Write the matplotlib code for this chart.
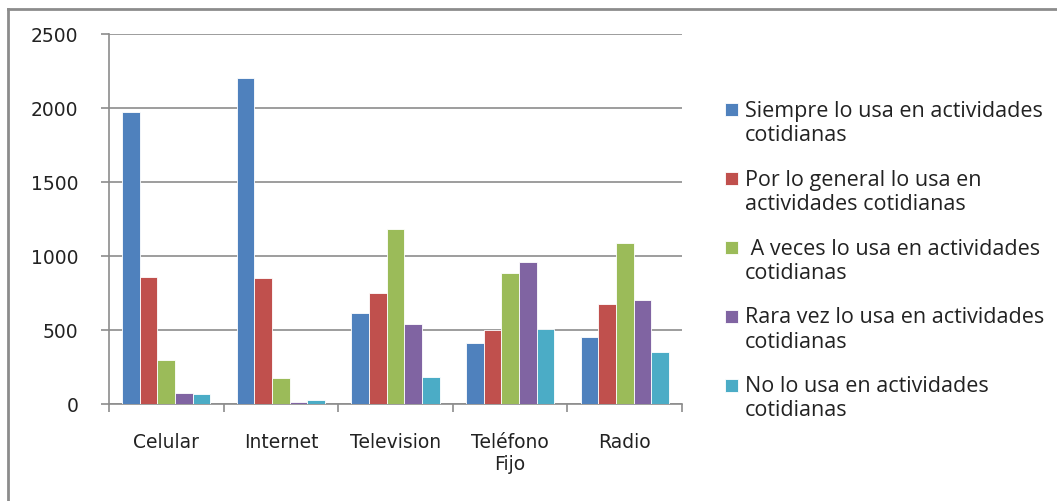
import matplotlib.pyplot as plt
import matplotlib.patches as mpatches
from matplotlib.container import BarContainer
from matplotlib.legend_handler import HandlerPatch
from matplotlib.lines import Line2D
import numpy as np

categories = ['Celular', 'Internet', 'Television', 'Teléfono\nFijo', 'Radio']
series_names = ['Siempre lo usa en actividades\ncotidianas',
                'Por lo general lo usa en\nactividades cotidianas',
                ' A veces lo usa en actividades\ncotidianas',
                'Rara vez lo usa en actividades\ncotidianas',
                'No lo usa en actividades\ncotidianas']
siempre = [1970, 2200, 613, 412, 450]
por_lo_general = [860, 853, 748, 500, 673]
a_veces = [300, 174, 1182, 883, 1086]
rara_vez = [74, 14, 538, 959, 703]
no_usa = [68, 25, 180, 509, 351]
colors = ['#4F81BD', '#C0504D', '#9BBB59', '#8064A2', '#4BACC6']

series = [siempre, por_lo_general, a_veces, rara_vez, no_usa]


def top_square(legend, orig_handle, xdescent, ydescent, width, height, fontsize):
    # small square next to the first line of a two-line label
    s = 0.6 * fontsize
    return mpatches.Rectangle((-xdescent, -ydescent + height - s + 0.1 * fontsize), s, s)


fig = plt.figure(figsize=(10.57, 5.02), dpi=100)
ax = fig.add_axes([109 / 1057, 97 / 502, 573 / 1057, 370 / 502])

x = np.arange(len(categories))
w = 0.154
for i, (vals, name, c) in enumerate(zip(series, series_names, colors)):
    ax.bar(x + (i - 2) * w, vals, width=w, color=c, edgecolor='white',
           linewidth=0.6, label=name, zorder=3)

ax.set_xlim(-0.5, len(categories) - 0.5)
ax.set_ylim(0, 2500)
ax.set_yticks(range(0, 2501, 500))
ax.yaxis.grid(True, color='#8c8c8c', linewidth=1.2, zorder=0)
ax.set_axisbelow(True)

ax.set_xticks(x)
ax.set_xticklabels(categories, fontsize=13.5, family='DejaVu Sans', color='#222222')
ax.tick_params(axis='x', length=0, pad=20)
ax.set_xticks(np.arange(-0.5, len(categories)), minor=True)
ax.tick_params(axis='x', which='minor', length=6, width=1.2, color='#8c8c8c', direction='out')
ax.tick_params(axis='y', length=6, width=1.2, color='#8c8c8c', labelsize=13.5,
               labelcolor='#222222', pad=16)

for s in ['top', 'right']:
    ax.spines[s].set_visible(False)
for s in ['left', 'bottom']:
    ax.spines[s].set_color('#8c8c8c')
    ax.spines[s].set_linewidth(1.2)

handler = HandlerPatch(patch_func=top_square,
                       update_func=lambda h, orig: h.update_from(orig[0]))
leg = ax.legend(loc='upper left', bbox_to_anchor=(714 / 1057, 412 / 502),
                bbox_transform=fig.transFigure, frameon=False,
                prop={'family': 'Open Sans', 'size': 15.5},
                handlelength=0.6, handleheight=2.2, handletextpad=0.35,
                labelspacing=1.1, borderpad=0,
                handler_map={BarContainer: handler})
for t in leg.get_texts():
    t.set_color('#222222')
    t.set_linespacing(1.2)

# outer chart border (top and left)
fig.add_artist(Line2D([8 / 1057, 1.0], [1 - 10 / 502, 1 - 10 / 502],
                      transform=fig.transFigure, color='#8c8c8c', linewidth=2))
fig.add_artist(Line2D([8 / 1057, 8 / 1057], [0, 1 - 10 / 502],
                      transform=fig.transFigure, color='#8c8c8c', linewidth=2))

fig.savefig('out.png', dpi=100)
